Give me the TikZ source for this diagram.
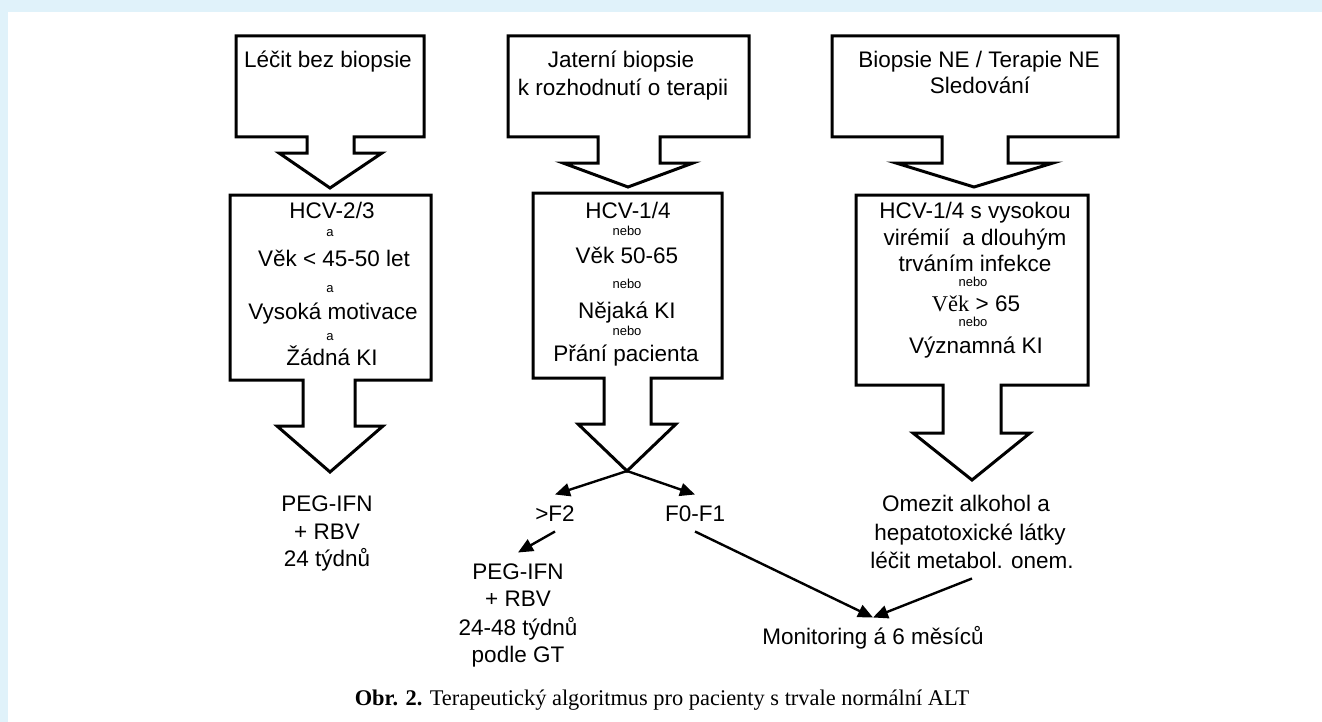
\documentclass[tikz,border=0pt]{standalone}
\usepackage{fontspec}
\setmainfont{Liberation Sans}
\newfontfamily\capfont{Liberation Serif}
\usetikzlibrary{arrows.meta}
\definecolor{panelblue}{HTML}{E0F2FA}

\begin{document}
\begin{tikzpicture}[x=0.5pt,y=-0.5pt]
	\tikzstyle{txt} = [font=\fontsize{11.25}{13}\selectfont,text height=8.1pt,text depth=0pt,inner xsep=1pt,inner ysep=5pt]
	\tikzstyle{tiny} = [font=\fontsize{6.5}{7.5}\selectfont,text height=3.4pt,text depth=0pt,inner sep=1pt]
	\tikzstyle{block} = [draw=black,line width=1.5pt]
	\tikzstyle{conn} = [draw=black,line width=1.2pt,-{Triangle[length=7.5pt,width=6.5pt]}]
		% Panel
		\useasboundingbox (0,0) rectangle (1322,722);
		\fill[panelblue] (0,0) rectangle (1322,722);
		\fill[white] (8,12) rectangle (1322,722);
		% Column 1
		\draw[block] (236,36) -- (424,36) -- (424,137) -- (354,137) -- (354,153) -- (382,153) -- (330,188) -- (279,153) -- (307,153) -- (307,137) -- (236,137) -- cycle;
		\node[txt] at (328,59)(t1) {Léčit bez biopsie};
		\draw[block] (230,195) -- (431,195) -- (431,380) -- (355,380) -- (355,426) -- (383,426) -- (330,472) -- (277,426) -- (303,426) -- (303,380) -- (230,380) -- cycle;
		\node[txt] at (332,210)(c1_0) {HCV-2/3};
		\node[tiny] at (330,233)(c1_1) {a};
		\node[txt] at (334,258)(c1_2) {Věk < 45-50 let};
		\node[tiny] at (330,289)(c1_3) {a};
		\node[txt] at (333,311)(c1_4) {Vysoká motivace};
		\node[tiny] at (330,337)(c1_5) {a};
		\node[txt] at (332,357)(c1_6) {Žádná KI};
		\node[txt] at (327,503)(o1_0) {PEG-IFN};
		\node[txt] at (327,531)(o1_1) {+ RBV};
		\node[txt] at (327,558)(o1_2) {24 týdnů};
		% Column 2
		\draw[block] (508,36) -- (749,36) -- (749,137) -- (660,137) -- (660,163) -- (693,163) -- (628,187) -- (563,163) -- (598,163) -- (598,137) -- (508,137) -- cycle;
		\node[txt] at (621,59)(t2_0) {Jaterní biopsie};
		\node[txt] at (623,87)(t2_1) {k rozhodnutí o terapii};
		\draw[block] (533,193) -- (722,193) -- (722,378) -- (651,378) -- (651,424) -- (676,424) -- (627,471) -- (578,424) -- (604,424) -- (604,378) -- (533,378) -- cycle;
		\coordinate (tip2) at (627,471);
		\node[txt] at (628,210)(c2_0) {HCV-1/4};
		\node[tiny] at (627,232)(c2_1) {nebo};
		\node[txt] at (627,255)(c2_2) {Věk 50-65};
		\node[tiny] at (627,285)(c2_3) {nebo};
		\node[txt] at (627,310)(c2_4) {Nějaká KI};
		\node[tiny] at (627,332)(c2_5) {nebo};
		\node[txt] at (626,353)(c2_6) {Přání pacienta};
		\node[txt] at (555,513)(gtF2) {>F2};
		\node[txt] at (695,513)(f01) {F0-F1};
		\draw[conn] (tip2) -- (gtF2.north);
		\draw[conn] (tip2) -- (f01.north);
		\node[txt] at (518,571)(o2_0) {PEG-IFN};
		\node[txt] at (518,598)(o2_1) {+ RBV};
		\node[txt] at (518,627)(o2_2) {24-48 týdnů};
		\node[txt] at (518,654)(o2_3) {podle GT};
		\draw[conn] (gtF2.south) -- (o2_0.north);
		% Column 3
		\draw[block] (832,36) -- (1118,36) -- (1118,137) -- (1008,137) -- (1008,163) -- (1053,163) -- (974,187) -- (896,163) -- (942,163) -- (942,137) -- (832,137) -- cycle;
		\node[txt] at (979,59)(t3_0) {Biopsie NE / Terapie NE};
		\node[txt] at (980,85)(t3_1) {Sledování};
		\draw[block] (856,195) -- (1088,195) -- (1088,385) -- (1001,385) -- (1001,433) -- (1030,433) -- (972,480) -- (913,433) -- (943,433) -- (943,385) -- (856,385) -- cycle;
		\node[txt] at (975,210)(c3_0) {HCV-1/4 s vysokou};
		\node[txt] at (975,237)(c3_1) {virémií\ \ a dlouhým};
		\node[txt] at (975,263)(c3_2) {trváním infekce};
		\node[tiny] at (973,283)(c3_3) {nebo};
		\node[txt] at (976,303)(c3_4) {{\capfont Věk} > 65};
		\node[tiny] at (973,323)(c3_5) {nebo};
		\node[txt] at (976,345)(c3_6) {Významná KI};
		\node[txt] at (966,503)(o3_0) {Omezit alkohol a};
		\node[txt] at (970,532)(o3_1) {hepatotoxické látky};
		\node[txt] at (972,560)(o3_2) {léčit metabol. onem.};
		% Monitoring
		\node[txt] at (873,636)(mon) {Monitoring á 6 měsíců};
		\draw[conn] (f01.south) -- (mon.north);
		\draw[conn] (o3_2.south) -- (mon.north);
		% Caption
		\node[font=\capfont\fontsize{11.2}{13}\selectfont] at (662,700)(obr) {\textbf{Obr. 2.} Terapeutický algoritmus pro pacienty s trvale normální ALT};
\end{tikzpicture}
\end{document}
